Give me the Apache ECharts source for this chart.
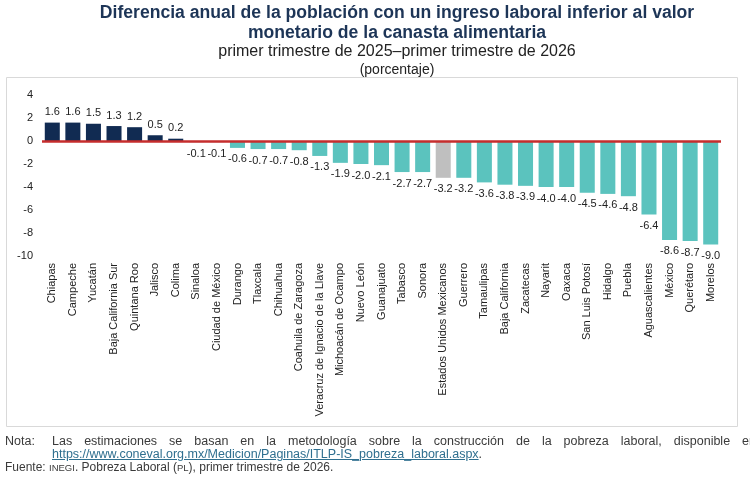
<!DOCTYPE html>
<html>
<head>
<meta charset="utf-8">
<script src="https://cdn.jsdelivr.net/npm/echarts@6/dist/echarts.min.js"></script>
<style>
  html, body { margin: 0; padding: 0; background: #fff; overflow: hidden; }
  #chart { width: 750px; height: 477px; }
  .foot { position: absolute; font-family: "Liberation Sans", Arial, sans-serif; font-size: 12.5px; color: #3a3a3a; white-space: nowrap; }
  .just { text-align: justify; text-align-last: justify; white-space: normal; overflow: hidden; height: 15px; }
  .sc { font-size: 9.5px; }
  a { color: #2f6f8f; }
</style>
</head>
<body>
<div id="chart"></div>
<div class="foot" style="left:5px; top:434px;">Nota:</div>
<div class="foot just" style="left:52px; top:434px; width:704px;">Las estimaciones se basan en la metodología sobre la construcción de la pobreza laboral, disponible en</div>
<div class="foot" style="left:52px; top:447px;"><a href="#">https://www.coneval.org.mx/Medicion/Paginas/ITLP-IS_pobreza_laboral.aspx</a>.</div>
<div class="foot" style="left:5px; top:460px; font-size:12px;">Fuente: <span class="sc">INEGI</span>. Pobreza Laboral (<span class="sc">PL</span>), primer trimestre de 2026.</div>
<script>
// entidades y diferencia anual (puntos porcentuales)
const estados = [
  'Chiapas', 'Campeche', 'Yucatán', 'Baja California Sur', 'Quintana Roo', 'Jalisco', 'Colima',
  'Sinaloa', 'Ciudad de México', 'Durango', 'Tlaxcala', 'Chihuahua', 'Coahuila de Zaragoza',
  'Veracruz de Ignacio de la Llave', 'Michoacán de Ocampo', 'Nuevo León', 'Guanajuato', 'Tabasco',
  'Sonora', 'Estados Unidos Mexicanos', 'Guerrero', 'Tamaulipas', 'Baja California', 'Zacatecas',
  'Nayarit', 'Oaxaca', 'San Luis Potosí', 'Hidalgo', 'Puebla', 'Aguascalientes', 'México',
  'Querétaro', 'Morelos'
]
const diferencia = [
  1.6, 1.6, 1.5, 1.3, 1.2, 0.5, 0.2,
  -0.1, -0.1, -0.6, -0.7, -0.7, -0.8,
  -1.3, -1.9, -2.0, -2.1, -2.7,
  -2.7, -3.2, -3.2, -3.6, -3.8, -3.9,
  -4.0, -4.0, -4.5, -4.6, -4.8, -6.4, -8.6,
  -8.7, -9.0
]
const nacional = 'Estados Unidos Mexicanos'

const FONT = '"Liberation Sans", Arial, sans-serif'
const NAVY = '#112b52'
const TEAL = '#5bc3be'
const GRIS = '#bfbfbf'

const data = diferencia.map((v, i) => ({
  value: v,
  itemStyle: {
    color: estados[i] === nacional ? GRIS : (v >= 0 ? NAVY : TEAL)
  },
  label: {
    position: v >= 0 ? 'top' : 'bottom',
    distance: v >= 0 ? 5 : 6
  }
}))

const myChart = echarts.init(document.getElementById('chart'))
myChart.setOption({
  animation: false,
  textStyle: { fontFamily: FONT },
  title: [
    {
      text: 'Diferencia anual de la población con un ingreso laboral inferior al valor\nmonetario de la canasta alimentaria',
      left: 397,
      top: 3,
      padding: 0,
      textAlign: 'center',
      textStyle: { fontFamily: FONT, fontSize: 17.6, fontWeight: 'bold', color: '#1d3557', lineHeight: 20 }
    },
    {
      text: 'primer trimestre de 2025–primer trimestre de 2026',
      left: 397,
      top: 44,
      padding: 0,
      textAlign: 'center',
      textStyle: { fontFamily: FONT, fontSize: 16, fontWeight: 'normal', color: '#222' }
    },
    {
      text: '(porcentaje)',
      left: 397,
      top: 63,
      padding: 0,
      textAlign: 'center',
      textStyle: { fontFamily: FONT, fontSize: 14, fontWeight: 'normal', color: '#222' }
    }
  ],
  graphic: [
    {
      type: 'rect',
      shape: { x: 6.5, y: 77.5, width: 731, height: 349 },
      style: { fill: 'none', stroke: '#d9d9d9', lineWidth: 1 },
      silent: true
    }
  ],
  grid: {
    left: 42,
    right: 29,
    top: 95,
    bottom: 221,
    containLabel: false
  },
  xAxis: {
    type: 'category',
    data: estados,
    axisLine: { show: false, onZero: false },
    axisTick: { show: false },
    axisLabel: {
      rotate: 90,
      interval: 0,
      margin: 7,
      fontSize: 11,
      color: '#222',
      fontFamily: FONT
    }
  },
  yAxis: {
    type: 'value',
    min: -10,
    max: 4,
    interval: 2,
    splitLine: { show: false },
    axisLine: { show: false },
    axisTick: { show: false },
    axisLabel: { fontSize: 11, color: '#222', margin: 9, fontFamily: FONT }
  },
  series: [
    {
      type: 'bar',
      data: data,
      barWidth: '73%',
      label: {
        show: true,
        fontSize: 11,
        color: '#222',
        fontFamily: FONT,
        formatter: p => p.value.toFixed(1)
      },
      markLine: {
        silent: true,
        symbol: 'none',
        label: { show: false },
        lineStyle: { color: '#c62d2d', width: 2.5, type: 'solid' },
        data: [{ yAxis: 0 }]
      }
    }
  ]
})
</script>
</body>
</html>
